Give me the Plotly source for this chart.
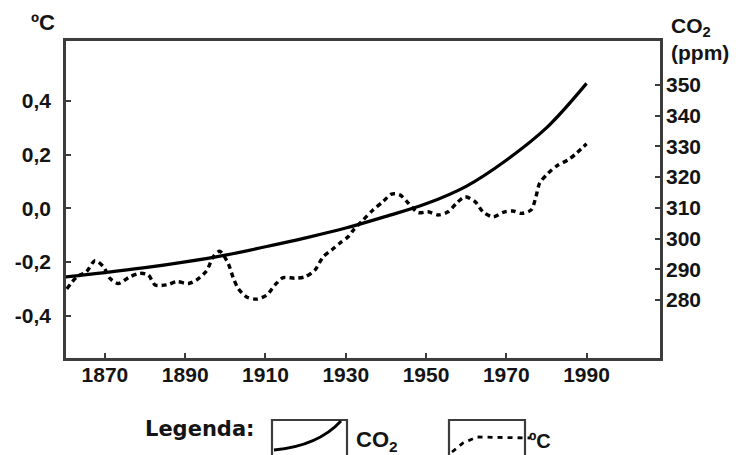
import plotly.graph_objects as go

# ---- data ----
co2_years = [1860, 1870, 1880, 1890, 1900, 1910, 1920, 1930, 1940, 1950, 1960, 1970, 1980, 1990]
co2_ppm = [287.5, 288.9, 290.5, 292.4, 294.6, 297.3, 300.2, 303.4, 307.2, 311.3, 317.0, 325.5, 336.0, 350.5]

temp_years = [1860.5, 1863.0, 1865.4, 1867.5, 1869.6, 1871.2, 1873.3, 1876.2, 1878.7, 1880.8,
              1882.5, 1885.4, 1887.9, 1890.8, 1892.8, 1895.3, 1897.0, 1898.6, 1900.7, 1902.0,
              1903.2, 1905.3, 1907.8, 1910.3, 1912.4, 1914.4, 1917.3, 1919.8, 1922.3, 1924.4,
              1926.5, 1928.5, 1930.6, 1931.9, 1934.3, 1936.8, 1939.3, 1941.4, 1943.5, 1945.6,
              1948.0, 1950.5, 1953.0, 1955.5, 1957.6, 1959.7, 1962.2, 1964.2, 1966.7, 1969.2,
              1971.6, 1973.8, 1976.2, 1977.4, 1978.3, 1980.4, 1982.9, 1985.4, 1987.5, 1990.0]
temp_anom = [-0.300, -0.255, -0.236, -0.195, -0.217, -0.260, -0.280, -0.255, -0.242, -0.248,
             -0.285, -0.285, -0.273, -0.280, -0.267, -0.233, -0.180, -0.160, -0.205, -0.260,
             -0.298, -0.330, -0.338, -0.323, -0.285, -0.258, -0.260, -0.255, -0.230, -0.180,
             -0.155, -0.130, -0.106, -0.081, -0.044, -0.006, 0.025, 0.053, 0.050, 0.019,
             -0.016, -0.013, -0.025, -0.013, 0.019, 0.043, 0.025, -0.013, -0.032, -0.015,
             -0.010, -0.019, -0.006, 0.043, 0.093, 0.130, 0.161, 0.180, 0.205, 0.240]

x_ticks = [1870, 1890, 1910, 1930, 1950, 1970, 1990]
t_ticks = [0.4, 0.2, 0.0, -0.2, -0.4]
t_ticktext = ["0,4", "0,2", "0,0", "-0,2", "-0,4"]
c_ticks = [280, 290, 300, 310, 320, 330, 340, 350]

# ---- figure ----
W, H = 745, 455
L, R, T, B = 66, 660, 41, 358
INK = "#141414"
FRAME = "#3c3c3c"
FONT = "Liberation Sans, Arial, sans-serif"
WIDE = "DejaVu Sans, Verdana, sans-serif"

def px(X):
    return (X - L) / (R - L)

def py(Y):
    return (B - Y) / (B - T)

fig = go.Figure()
fig.add_trace(go.Scatter(x=co2_years, y=co2_ppm, yaxis="y2", mode="lines",
                         line=dict(color="#000000", width=3.2, shape="spline"),
                         showlegend=False, hoverinfo="skip"))
fig.add_trace(go.Scatter(x=temp_years, y=temp_anom, yaxis="y", mode="lines",
                         line=dict(color="#000000", width=3.4, shape="spline", smoothing=0.8,
                                   dash="5px,4px"),
                         showlegend=False, hoverinfo="skip"))

tickfont = dict(family=FONT, size=21, color=INK, weight="bold")

fig.update_layout(
    width=W, height=H,
    margin=dict(l=L, r=W - R, t=T, b=H - B, pad=0),
    paper_bgcolor="white", plot_bgcolor="white",
    showlegend=False,
    xaxis=dict(range=[1860.3, 2008.3], tickvals=x_ticks, ticks="inside", ticklen=5,
               tickwidth=2, tickcolor=FRAME, showgrid=False, zeroline=False,
               showline=True, linecolor=FRAME, linewidth=2.5, mirror=True,
               tickfont=tickfont, ticklabelstandoff=-4),
    yaxis=dict(range=[-0.557, 0.6225], tickvals=t_ticks, ticktext=t_ticktext,
               ticks="inside", ticklen=5, tickwidth=2, tickcolor=FRAME,
               showgrid=False, zeroline=False, showline=True, linecolor=FRAME,
               linewidth=2.5, mirror=True, tickfont=tickfont, ticklabelstandoff=8),
    yaxis2=dict(range=[261.1, 364.3], tickvals=c_ticks, overlaying="y", side="right",
                ticks="inside", ticklen=5, tickwidth=2, tickcolor=FRAME,
                showgrid=False, zeroline=False, showline=False,
                tickfont=tickfont, ticklabelstandoff=5),
)

annots = [
    dict(x=px(43), y=py(23), text="ºC", xanchor="center", yanchor="middle", size=22, fam=FONT),
    dict(x=px(669), y=py(12), text="CO<sub>2</sub><br>(ppm)", xanchor="left", yanchor="top",
         align="left", size=21, fam=FONT),
    dict(x=px(256), y=py(429), text="Legenda:", xanchor="right", yanchor="middle", size=21,
         fam=WIDE),
    dict(x=px(354), y=py(441), text="CO<sub>2</sub>", xanchor="left", yanchor="middle", size=22,
         fam=FONT),
    dict(x=px(527), y=py(441), text="ºC", xanchor="left", yanchor="middle", size=20, fam=FONT),
]
for a in annots:
    size = a.pop("size")
    fam = a.pop("fam")
    fig.add_annotation(xref="paper", yref="paper", showarrow=False,
                       font=dict(family=fam, size=size, color=INK, weight="bold"), **a)

# legend boxes and sample lines
for x0, x1 in [(272, 347), (449, 525)]:
    fig.add_shape(type="rect", xref="paper", yref="paper",
                  x0=px(x0), x1=px(x1), y0=py(420), y1=py(470),
                  line=dict(color=FRAME, width=2.2), fillcolor="rgba(0,0,0,0)")

fig.add_shape(type="path", xref="paper", yref="paper",
              path=f"M {px(274)},{py(450)} Q {px(318)},{py(446)} {px(341)},{py(421)}",
              line=dict(color="#000000", width=2.8))
fig.add_shape(type="path", xref="paper", yref="paper",
              path=(f"M {px(452)},{py(452)} L {px(463)},{py(443)} L {px(477)},{py(437)} "
                    f"L {px(530)},{py(438)}"),
              line=dict(color="#000000", width=2.8, dash="5px,5px"))

fig.write_html("out.html", config={"displayModeBar": False},
               post_script="document.body.style.margin='0px';")
